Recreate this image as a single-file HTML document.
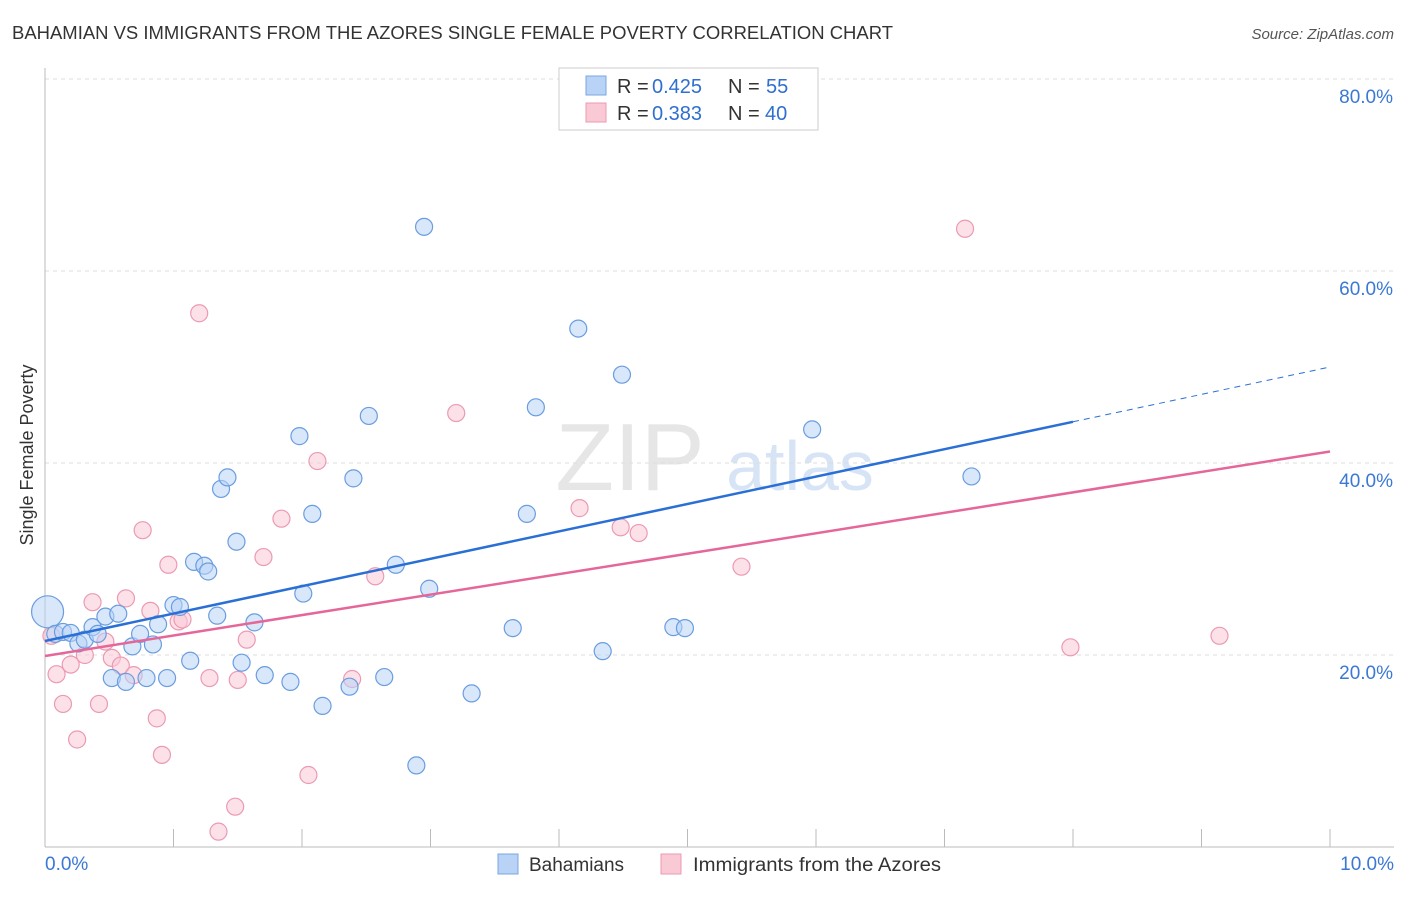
<!DOCTYPE html>
<html><head><meta charset="utf-8"><style>
body{margin:0;background:#fff;font-family:"Liberation Sans",sans-serif;}
svg text{font-family:"Liberation Sans",sans-serif;}
</style></head><body>
<svg id="c" width="1406" height="892" xmlns="http://www.w3.org/2000/svg">
<text x="12" y="39" font-size="18" fill="#333" textLength="881" lengthAdjust="spacingAndGlyphs">BAHAMIAN VS IMMIGRANTS FROM THE AZORES SINGLE FEMALE POVERTY CORRELATION CHART</text>
<text x="1394" y="39" font-size="15" fill="#555" font-style="italic" text-anchor="end">Source: ZipAtlas.com</text>
<text x="33" y="455" font-size="18" fill="#333" transform="rotate(-90 33 455)" text-anchor="middle">Single Female Poverty</text>
<text x="630" y="490" font-size="96" fill="#e6e6e6" font-family="Liberation Serif" text-anchor="middle">ZIP</text>
<text x="800" y="490" font-size="70" fill="#d6e4f5" text-anchor="middle">atlas</text>
<g id="grid"></g><g id="axes"></g><g id="pts"></g><g id="trends"></g>
<g>
<rect x="559" y="68" width="259" height="62" fill="#fff" stroke="#ccc"/>
<rect x="586" y="76" width="20" height="19" fill="#b8d3f5" stroke="#7aa7e0"/>
<rect x="586" y="103" width="20" height="19" fill="#f9c9d6" stroke="#ec9ab3"/>
<text x="617" y="93" font-size="20" fill="#333">R =</text>
<text x="652" y="93" font-size="20" fill="#2f6fd0">0.425</text>
<text x="728" y="93" font-size="20" fill="#333">N =</text>
<text x="766" y="93" font-size="20" fill="#2f6fd0">55</text>
<text x="617" y="120" font-size="20" fill="#333">R =</text>
<text x="652" y="120" font-size="20" fill="#2f6fd0">0.383</text>
<text x="728" y="120" font-size="20" fill="#333">N =</text>
<text x="765" y="120" font-size="20" fill="#2f6fd0">40</text>
</g>
<g>
<rect x="498" y="854" width="20" height="20" fill="#b8d3f5" stroke="#7aa7e0"/>
<text x="529" y="871" font-size="19" fill="#333">Bahamians</text>
<rect x="661" y="854" width="20" height="20" fill="#f9c9d6" stroke="#ec9ab3"/>
<text x="693" y="871" font-size="19" fill="#333" textLength="248" lengthAdjust="spacingAndGlyphs">Immigrants from the Azores</text>
</g>
</svg>
<script>
const blueX=[0.02,0.08,0.14,0.2,0.26,0.31,0.37,0.41,0.47,0.52,0.57,0.63,0.68,0.74,0.79,0.84,0.88,0.95,1.0,1.05,1.13,1.16,1.24,1.27,1.34,1.37,1.42,1.49,1.53,1.63,1.71,1.91,2.01,1.98,2.08,2.16,2.37,2.4,2.52,2.64,2.73,2.89,2.95,2.99,3.32,3.64,3.75,3.82,4.15,4.34,4.49,4.89,4.98,5.97,7.21];
const blueY=[24.5,22.2,22.4,22.3,21.2,21.6,22.9,22.2,24.0,17.6,24.3,17.2,20.9,22.2,17.6,21.1,23.2,17.6,25.2,25.0,19.4,29.7,29.3,28.7,24.1,37.3,38.5,31.8,19.2,23.4,17.9,17.2,26.4,42.8,34.7,14.7,16.7,38.4,44.9,17.7,29.4,8.5,64.6,26.9,16.0,22.8,34.7,45.8,54.0,20.4,49.2,22.9,22.8,43.5,38.6];
const pinkX=[0.05,0.09,0.14,0.2,0.25,0.31,0.37,0.42,0.47,0.52,0.59,0.63,0.69,0.76,0.82,0.87,0.91,0.96,1.04,1.07,1.2,1.28,1.35,1.48,1.5,1.57,1.7,1.84,2.05,2.12,2.39,2.57,3.2,4.16,4.48,4.62,5.42,7.16,7.98,9.14];
const pinkY=[22.0,18.0,14.9,19.0,11.2,20.0,25.5,14.9,21.4,19.7,18.9,25.9,17.9,33.0,24.6,13.4,9.6,29.4,23.5,23.7,55.6,17.6,1.6,4.2,17.4,21.6,30.2,34.2,7.5,40.2,17.5,28.2,45.2,35.3,33.3,32.7,29.2,64.4,20.8,22.0];
const yTicks=[20,40,60,80];
const xTickLabels=["0.0%","10.0%"];
const blueTrend=[21.46,50.0], pinkTrend=[19.9,41.2];
const X=v=>45+v*128.5, Y=v=>847-v*9.6;
const NS="http://www.w3.org/2000/svg";
function mk(tag,at,parent){const e=document.createElementNS(NS,tag);for(const k in at)e.setAttribute(k,at[k]);document.getElementById(parent).appendChild(e);return e;}
yTicks.forEach(t=>{
 const l=mk('line',{x1:45,x2:1394,y1:Y(t),y2:Y(t),stroke:'#ddd','stroke-dasharray':'4,4'},'grid');
 
 
 const tx=mk('text',{x:1393,y:Y(t)+24,'font-size':19,fill:'#3a78d4','text-anchor':'end'},'grid');
 tx.textContent=t.toFixed(1)+'%';
 
 
});
const ax=mk('line',{x1:45,x2:1394,y1:847,y2:847,stroke:'#bbb'},'axes');


const ay=mk('line',{x1:45,x2:45,y1:68,y2:847,stroke:'#bbb'},'axes');


for(let i=1;i<=10;i++){const t=mk('line',{x1:X(i),x2:X(i),y1:829,y2:847,stroke:'#bbb'},'axes');
 
 }
xTickLabels.forEach((s,i)=>{const t=mk('text',{x:i?1394:45,y:870,'font-size':19,fill:'#3a78d4','text-anchor':i?'end':'start'},'axes');t.textContent=s;
 
 });
function pts(xs,ys,fill,stroke,name){xs.forEach((x,i)=>{const r=(i===0&&name==='bahamian')?16:8.5;
 const c=mk('circle',{cx:X(x),cy:Y(ys[i]),r:r,fill:fill,stroke:stroke,'stroke-width':1.2},'pts');
 
 });}
pts(pinkX,pinkY,'rgba(249,201,214,0.55)','#ec9ab3','azores');
pts(blueX,blueY,'rgba(184,211,245,0.55)','#6a9de0','bahamian');
const bs=blueTrend[0]+(blueTrend[1]-blueTrend[0])*0.8;
const b1=mk('line',{x1:X(0),y1:Y(blueTrend[0]),x2:X(8),y2:Y(bs),stroke:'#2a6fd6','stroke-width':2.5},'trends');


const b2=mk('line',{x1:X(8),y1:Y(bs),x2:X(10),y2:Y(blueTrend[1]),stroke:'#2a6fd6','stroke-width':1,'stroke-dasharray':'6,5'},'trends');


const p1=mk('line',{x1:X(0),y1:Y(pinkTrend[0]),x2:X(10),y2:Y(pinkTrend[1]),stroke:'#e5679a','stroke-width':2.5},'trends');


</script>
</body></html>
